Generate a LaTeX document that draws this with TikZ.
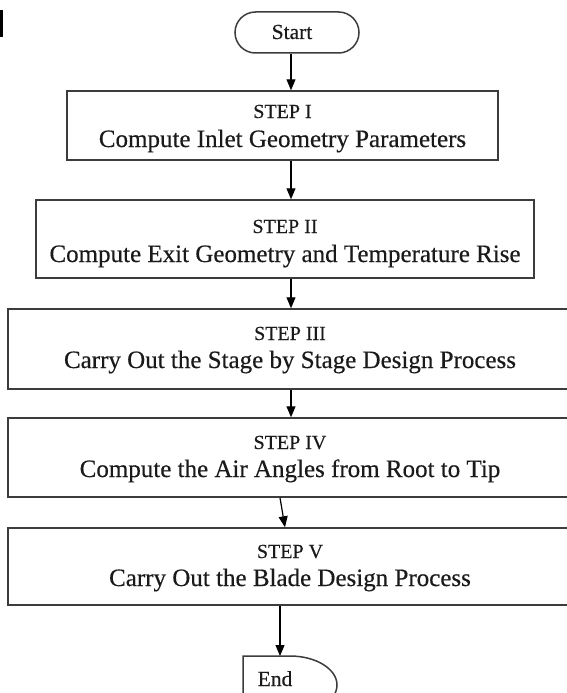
\documentclass[tikz,border=0pt]{standalone}
\usepackage{fontspec}
\setmainfont{Liberation Serif}[FakeBold=0.4]
\usetikzlibrary{arrows.meta,calc}
\definecolor{boxgray}{HTML}{3C3C3C}
\definecolor{inkdark}{HTML}{1A1A1A}
\begin{document}
\begin{tikzpicture}[x=1pt,y=-1pt,
  frame/.style={draw=boxgray,line width=1.5pt},
  stepbox/.style={frame,rectangle,inner sep=0pt},
  term/.style={frame,rectangle,rounded corners=20.5pt,inner sep=0pt},
  arr/.style={draw=black,line width=1.2pt,-{Triangle[length=11pt,width=9pt]}},
  steptag/.style={anchor=base,inner sep=0pt,text=inkdark,font=\fontsize{20}{23}\selectfont},
  steptext/.style={anchor=base,inner sep=0pt,text=inkdark,font=\fontsize{25}{29}\selectfont},
  termtext/.style={anchor=base,inner sep=0pt,text=inkdark,font=\fontsize{21.5}{25}\selectfont}]
\path[use as bounding box] (0,0) rectangle (567,693);
\clip (0,0) rectangle (567,693);

% small mark at the left margin
\fill[black] (0,10) rectangle (3,37);

% start terminal
\node[term, minimum width=124pt, minimum height=41pt] (start) at (297,32.5) {};
\node[termtext] (startlabel) at (292,39) {Start};

% process boxes
\node[stepbox, minimum width=431pt, minimum height=69pt] (b1) at (282.5,125.5) {};
\node[stepbox, minimum width=498pt, minimum height=78pt] (b2) at (285,239) {};
\node[stepbox, minimum width=564pt, minimum height=80pt] (b3) at (290,349) {};
\node[stepbox, minimum width=564pt, minimum height=79pt] (b4) at (290,457.5) {};
\node[stepbox, minimum width=564pt, minimum height=77pt] (b5) at (290,566.5) {};

\node[steptag]  (t1)  at (282.5,118) {STEP I};
\node[steptext] (m1)  at (282.5,147) {Compute Inlet Geometry Parameters};
\node[steptag]  (t2)  at (285,233) {STEP II};
\node[steptext] (m2)  at (285,262) {Compute Exit Geometry and Temperature Rise};
\node[steptag]  (t3)  at (290,340) {STEP III};
\node[steptext] (m3)  at (290,368) {Carry Out the Stage by Stage Design Process};
\node[steptag]  (t4)  at (290,449) {STEP IV};
\node[steptext] (m4)  at (290,477) {Compute the Air Angles from Root to Tip};
\node[steptag]  (t5)  at (290,558) {STEP V};
\node[steptext] (m5)  at (290,586) {Carry Out the Blade Design Process};

% end terminal (delay-shaped, runs past the lower edge)
\coordinate (endtop) at (280,656);
\draw[frame] (243,720) -- (243,656) -- (290,656)
  arc[start angle=-90,end angle=90,x radius=47,y radius=29] -- (243,714);
\node[termtext] (endlabel) at (275,686) {End};

% connectors
\coordinate (ax) at (291,0);
\draw[arr] (start.south -| ax) -- (b1.north -| ax);
\draw[arr] (b1.south -| ax) -- (b2.north -| ax);
\draw[arr] (b2.south -| ax) -- (b3.north -| ax);
\draw[arr] (b3.south -| ax) -- (b4.north -| ax);
\draw[arr] ($(b4.south)+(-10,0)$) -- ($(b5.north)+(-5,0)$);
\draw[arr] (b5.south -| endtop) -- (endtop);
\end{tikzpicture}
\end{document}
